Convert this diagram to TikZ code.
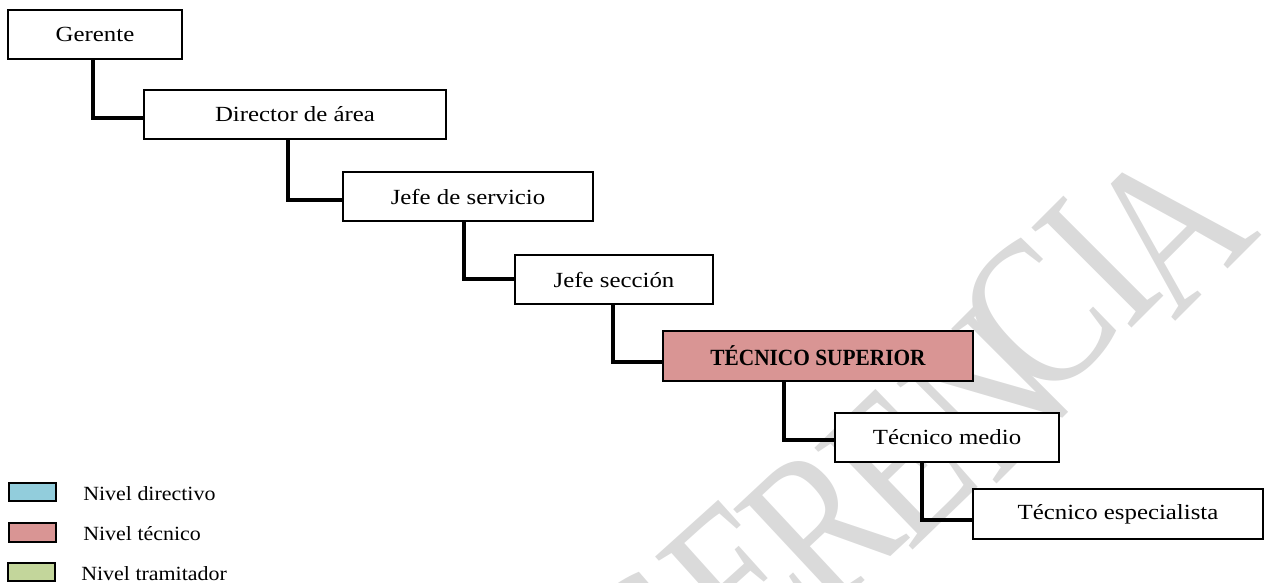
\documentclass[tikz,border=0pt]{standalone}
\usepackage{fontspec}
\setmainfont{Liberation Serif}[FakeStretch=1.15]
\newfontfamily\boldfam{Liberation Serif}[FakeStretch=0.92]
\newfontfamily\legfam{Liberation Serif}[FakeStretch=1.09]
\newfontfamily\wmfam{Liberation Serif}[FakeStretch=0.8]
\definecolor{pinkfill}{HTML}{D99594}
\definecolor{bluefill}{HTML}{92CDDC}
\definecolor{greenfill}{HTML}{C3D69B}
\definecolor{wmgray}{HTML}{DADADA}
\tikzset{
  orgbox/.style={draw=black, line width=1.4pt, fill=white, inner sep=0pt,
    font=\fontsize{16.2pt}{18pt}\selectfont},
  tsbox/.style={orgbox, fill=pinkfill, font=\boldfam\bfseries\fontsize{17.4pt}{19pt}\selectfont},
  conn/.style={draw=black, line width=3pt},
  legbox/.style={draw=black, line width=1.2pt, inner sep=0pt},
  legtext/.style={anchor=base west, inner sep=0pt, font=\legfam\fontsize{15.1pt}{17pt}\selectfont},
  wm/.style={text=wmgray, inner sep=0pt, rotate=45, font=\wmfam\fontsize{162pt}{162pt}\selectfont}
}
\begin{document}
\begin{tikzpicture}[x=0.75pt, y=-0.75pt]
\path[use as bounding box] (0,0) rectangle (1266,582);
\begin{scope}
\clip (0,0) rectangle (1266,582);
\node[wm, rotate=-4] (wg) at (650,650) {G};
\node[wm, rotate=-3] (we1) at (738,578) {E};
\node[wm, rotate=-2] (wr) at (820,525) {R};
\node[wm, rotate=-1] (we2) at (898,466) {E};
\node[wm] (wn) at (988,393) {N};
\node[wm] (wc) at (1036,318) {C};
\node[wm] (wi) at (1098,262) {I};
\node[wm] (wa) at (1168,228) {A};
\end{scope}
% boxes
\node[orgbox, minimum width=174*0.75pt, minimum height=49*0.75pt] (ger) at (95,34.5) {Gerente};
\node[orgbox, minimum width=302*0.75pt, minimum height=49*0.75pt] (dir) at (295,114.5) {Director de área};
\node[orgbox, minimum width=250*0.75pt, minimum height=49*0.75pt] (jserv) at (468,196.5) {Jefe de servicio};
\node[orgbox, minimum width=198*0.75pt, minimum height=49*0.75pt] (jsec) at (614,279.5) {Jefe sección};
\node[tsbox, minimum width=310*0.75pt, minimum height=50*0.75pt] (ts) at (818,356) {TÉCNICO SUPERIOR};
\node[orgbox, minimum width=224*0.75pt, minimum height=49*0.75pt] (tm) at (947,437.5) {Técnico medio};
\node[orgbox, minimum width=290*0.75pt, minimum height=50*0.75pt] (te) at (1118,514) {Técnico especialista};
% connectors
\draw[conn] ([xshift=-1.5pt]ger.south) |- ([yshift=-2.6pt]dir.west);
\draw[conn] ([xshift=-5.25pt]dir.south) |- ([yshift=-2.6pt]jserv.west);
\draw[conn] ([xshift=-3pt]jserv.south) |- ([yshift=0.4pt]jsec.west);
\draw[conn] ([xshift=-0.75pt]jsec.south) |- ([yshift=-4.5pt]ts.west);
\draw[conn] ([xshift=-25.5pt]ts.south) |- ([yshift=-1.9pt]tm.west);
\draw[conn] ([xshift=-18.75pt]tm.south) |- ([yshift=-4.5pt]te.west);
% legend
\node[legbox, fill=bluefill, minimum width=47*0.75pt, minimum height=18*0.75pt] (lb) at (32.5,492) {};
\node[legbox, fill=pinkfill, minimum width=47*0.75pt, minimum height=19*0.75pt] (lp) at (32.5,532.5) {};
\node[legbox, fill=greenfill, minimum width=47*0.75pt, minimum height=18*0.75pt] (lg) at (31.5,572) {};
\node[legtext] (lbt) at (83,500.7) {Nivel directivo};
\node[legtext] (lpt) at (83,540.7) {Nivel técnico};
\node[legtext] (lgt) at (81,580) {Nivel tramitador};
\end{tikzpicture}
\end{document}
